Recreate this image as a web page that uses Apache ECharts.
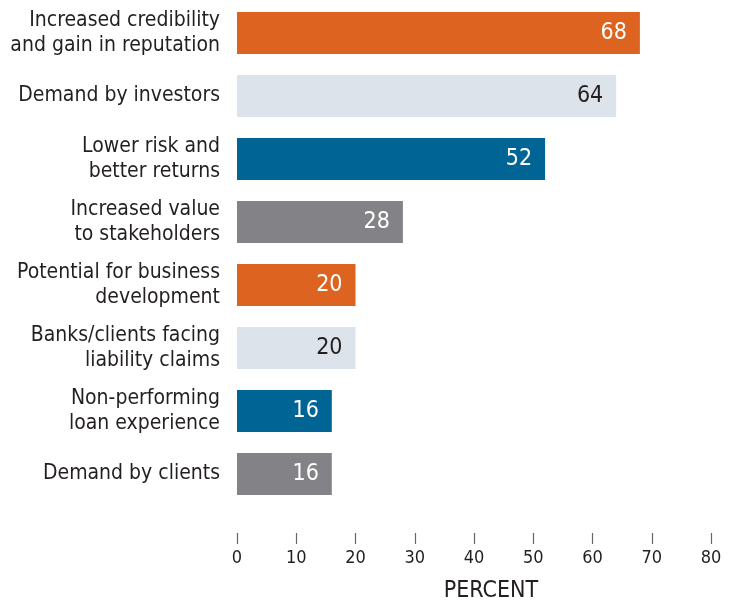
<!DOCTYPE html>
<html>
<head>
<meta charset="utf-8">
<script src="https://cdn.jsdelivr.net/npm/echarts@6/dist/echarts.min.js"></script>
<style>
  html, body { margin: 0; padding: 0; background: #fff; }
  #chart { width: 734px; height: 614px; }
</style>
</head>
<body>
<div id="chart"></div>
<script>
const categories = [
  'Increased credibility\nand gain in reputation',
  'Demand by investors',
  'Lower risk and\nbetter returns',
  'Increased value\nto stakeholders',
  'Potential for business\ndevelopment',
  'Banks/clients facing\nliability claims',
  'Non-performing\nloan experience',
  'Demand by clients'
]
const values = [68, 64, 52, 28, 20, 20, 16, 16]
const tickValues = [0, 10, 20, 30, 40, 50, 60, 70, 80]

const barColors = ['#dd6420', '#dce3ea', '#006595', '#838387']
const labelColors = ['#ffffff', '#231f20', '#ffffff', '#ffffff']
const FONT = '"Liberation Sans Narrow", "DejaVu Sans Condensed", sans-serif'

const chart = echarts.init(document.getElementById('chart'))

chart.setOption({
  animation: false,
  grid: {
    left: 237,
    right: 23,
    top: 1.5,
    bottom: 108.5
  },
  xAxis: {
    type: 'value',
    min: 0,
    max: 80,
    interval: 10,
    offset: 27.5,
    axisLine: { show: false },
    axisTick: { show: true, length: 11, lineStyle: { color: '#666', width: 1.2 } },
    splitLine: { show: false },
    axisLabel: {
      margin: 16,
      fontFamily: FONT,
      fontSize: 18,
      color: '#231f20',
      formatter: v => tickValues.includes(v) ? String(v) : ''
    },
    name: 'PERCENT',
    nameLocation: 'middle',
    nameGap: 47,
    nameTextStyle: {
      fontFamily: FONT,
      fontSize: 23,
      color: '#231f20',
      padding: [0, 0, 0, 34]
    }
  },
  yAxis: {
    type: 'category',
    inverse: true,
    data: categories,
    axisLine: { show: false },
    axisTick: { show: false },
    axisLabel: {
      margin: 17,
      fontFamily: FONT,
      fontSize: 21,
      lineHeight: 25,
      color: '#231f20',
      align: 'right'
    }
  },
  series: [{
    type: 'bar',
    barWidth: 42,
    data: values.map((v, i) => ({
      value: v,
      itemStyle: { color: barColors[i % 4] },
      label: { color: labelColors[i % 4] }
    })),
    label: {
      show: true,
      position: 'insideRight',
      distance: 13,
      fontFamily: FONT,
      fontSize: 23
    }
  }]
})
</script>
</body>
</html>
